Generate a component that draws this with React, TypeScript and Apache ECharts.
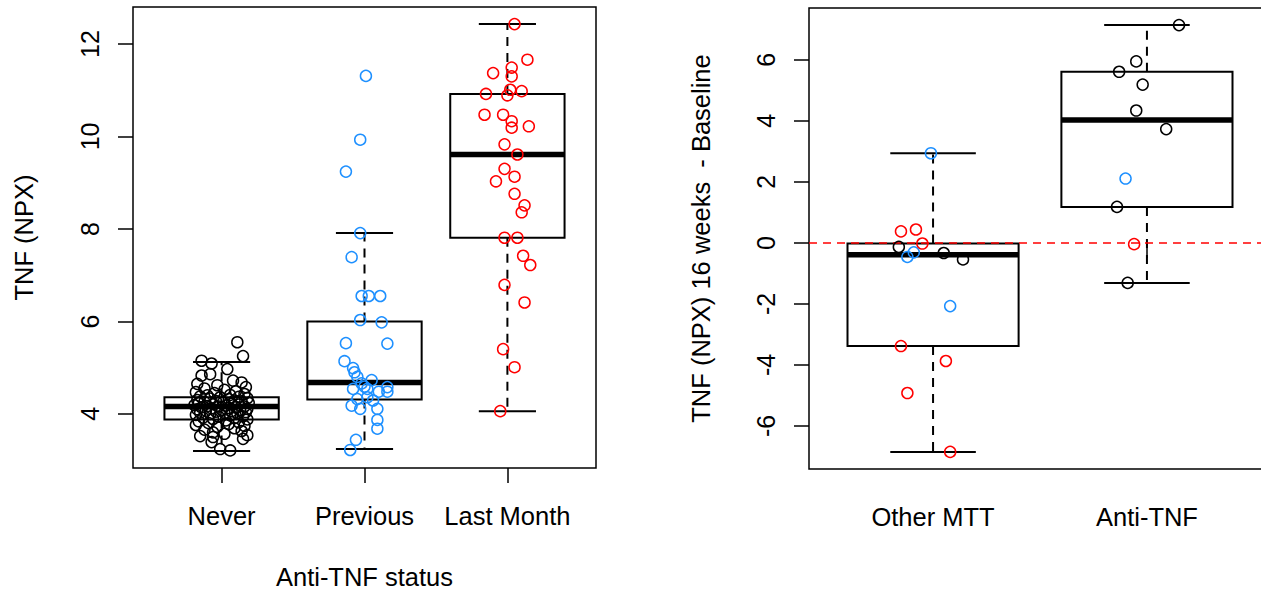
import React, { useEffect, useRef } from "react";
import * as echarts from "echarts";

// ---------- Left panel data ----------
const leftCategories = ["Never", "Previous", "Last Month"];
const leftTicks = [4, 6, 8, 10, 12];
// [jitter, TNF value]
const neverPts: [number, number][] = [
  [0.11, 5.55], [0.15, 5.25], [-0.14, 5.15], [-0.07, 5.09], [0.04, 4.97], [-0.14, 4.83], [-0.08, 4.86],
  [0.08, 4.72], [0.14, 4.68], [-0.17, 4.65], [-0.03, 4.62], [0.17, 4.58], [-0.12, 4.55], [0.02, 4.52],
  [0.1, 4.49], [-0.18, 4.47], [-0.05, 4.45], [0.16, 4.43], [0.06, 4.41], [-0.1, 4.4], [-0.15, 4.38],
  [0.12, 4.37], [-0.01, 4.36], [0.18, 4.34], [-0.08, 4.33], [0.05, 4.32], [-0.17, 4.3], [0.09, 4.29],
  [-0.04, 4.28], [0.14, 4.27], [-0.12, 4.26], [0.01, 4.25], [0.19, 4.24], [-0.16, 4.23], [0.07, 4.22],
  [-0.06, 4.21], [0.12, 4.2], [-0.19, 4.19], [0.03, 4.18], [-0.1, 4.17], [0.16, 4.16], [-0.02, 4.16],
  [0.1, 4.15], [-0.14, 4.14], [0.05, 4.13], [-0.07, 4.12], [0.18, 4.11], [-0.17, 4.1], [0.0, 4.09],
  [0.13, 4.08], [-0.11, 4.07], [0.07, 4.06], [-0.04, 4.05], [0.17, 4.04], [-0.15, 4.03], [0.02, 4.02],
  [0.11, 4.01], [-0.08, 4.0], [-0.18, 3.98], [0.06, 3.97], [0.15, 3.95], [-0.02, 3.94], [-0.13, 3.92],
  [0.09, 3.91], [-0.06, 3.89], [0.18, 3.88], [0.03, 3.86], [-0.16, 3.84], [0.12, 3.82], [-0.09, 3.8],
  [0.05, 3.78], [-0.18, 3.76], [0.16, 3.74], [-0.03, 3.72], [0.09, 3.69], [-0.12, 3.66], [0.14, 3.63],
  [-0.06, 3.6], [0.02, 3.57], [0.18, 3.54], [-0.15, 3.52], [0.15, 3.46], [-0.06, 3.5], [-0.07, 3.39],
  [-0.01, 3.24], [0.06, 3.21],
];
const previousPts: [number, number][] = [
  [0.01, 11.31], [-0.03, 9.93], [-0.13, 9.24], [-0.03, 7.91], [-0.09, 7.39], [-0.02, 6.55], [0.03, 6.55],
  [0.11, 6.55], [-0.03, 6.03], [0.12, 5.98], [-0.13, 5.53], [0.16, 5.52], [-0.14, 5.14], [-0.08, 4.99],
  [-0.07, 4.9], [-0.05, 4.8], [0.05, 4.73], [-0.02, 4.66], [0.0, 4.59], [-0.08, 4.54], [0.02, 4.54],
  [0.16, 4.58], [0.16, 4.48], [0.1, 4.48], [-0.05, 4.32], [0.02, 4.36], [0.06, 4.29], [-0.09, 4.18],
  [-0.03, 4.11], [0.09, 4.11], [0.09, 3.87], [0.09, 3.68], [-0.06, 3.44], [-0.1, 3.22],
];
const lastMonthPts: [number, number][] = [
  [0.05, 12.43], [0.14, 11.66], [-0.1, 11.37], [0.03, 11.49], [0.03, 11.3], [0.02, 11.01], [0.1, 10.98],
  [-0.15, 10.92], [0.0, 10.89], [-0.16, 10.47], [-0.03, 10.47], [0.03, 10.33], [0.03, 10.19], [0.15, 10.22],
  [-0.02, 9.83], [0.07, 9.61], [-0.02, 9.3], [-0.08, 9.03], [0.05, 9.13], [0.05, 8.76], [0.12, 8.51],
  [0.1, 8.36], [-0.02, 7.81], [0.07, 7.81], [0.11, 7.42], [0.16, 7.22], [-0.02, 6.79], [0.12, 6.41],
  [-0.03, 5.4], [0.05, 5.01], [-0.05, 4.06],
];
// [position, lower whisker, Q1, median, Q3, upper whisker]
const leftBoxes: number[][] = [
  [1, 3.2, 3.88, 4.16, 4.36, 5.12],
  [2, 3.24, 4.31, 4.68, 6.0, 7.91],
  [3, 4.06, 7.81, 9.61, 10.92, 12.43],
];

// ---------- Right panel data ----------
const rightCategories = ["Other MTT", "Anti-TNF"];
const rightTicks = [-6, -4, -2, 0, 2, 4, 6];
const otherBlack: [number, number][] = [[-0.16, -0.13], [0.05, -0.33], [0.14, -0.54]];
const otherBlue: [number, number][] = [[-0.01, 2.94], [-0.09, -0.31], [-0.12, -0.46], [0.08, -2.07]];
const otherRed: [number, number][] = [
  [-0.15, 0.38], [-0.08, 0.44], [-0.05, -0.02], [-0.15, -3.38], [0.06, -3.87], [-0.12, -4.92], [0.08, -6.85],
];
const antiBlack: [number, number][] = [
  [0.15, 7.14], [-0.05, 5.95], [-0.13, 5.61], [-0.02, 5.19], [-0.05, 4.34], [0.09, 3.73], [-0.14, 1.18], [-0.09, -1.31],
];
const antiBlue: [number, number][] = [[-0.1, 2.11]];
const antiRed: [number, number][] = [[-0.06, -0.04]];
const rightBoxes: number[][] = [
  [1, -6.85, -3.38, -0.39, -0.02, 2.94],
  [2, -1.31, 1.18, 4.03, 5.61, 7.14],
];

const BLACK = "#000000";
const BLUE = "#1E90FF";
const RED = "#FF0000";
const FONT = "Liberation Sans, Arial, sans-serif";

function place(pts: [number, number][], pos: number) {
  return pts.map(([j, v]) => [pos + j, v]);
}

function boxRender(params: any, api: any) {
  const x = api.value(0);
  const lo = api.coord([x, api.value(1)]);
  const q1 = api.coord([x, api.value(2)]);
  const med = api.coord([x, api.value(3)]);
  const q3 = api.coord([x, api.value(4)]);
  const hi = api.coord([x, api.value(5)]);
  const hw = api.size([0.4, 0])[0];
  const cw = api.size([0.2, 0])[0];
  const cx = lo[0];
  const dash = { stroke: BLACK, lineWidth: 2, lineDash: [9, 7] };
  const solid = { stroke: BLACK, lineWidth: 2 };
  return {
    type: "group",
    children: [
      { type: "line", shape: { x1: cx, y1: q3[1], x2: cx, y2: hi[1] }, style: dash },
      { type: "line", shape: { x1: cx, y1: q1[1], x2: cx, y2: lo[1] }, style: dash },
      { type: "line", shape: { x1: cx - cw, y1: hi[1], x2: cx + cw, y2: hi[1] }, style: solid },
      { type: "line", shape: { x1: cx - cw, y1: lo[1], x2: cx + cw, y2: lo[1] }, style: solid },
      {
        type: "rect",
        shape: { x: cx - hw, y: q3[1], width: 2 * hw, height: q1[1] - q3[1] },
        style: { fill: "#ffffff", stroke: BLACK, lineWidth: 2 },
      },
      { type: "line", shape: { x1: cx - hw, y1: med[1], x2: cx + hw, y2: med[1] }, style: { stroke: BLACK, lineWidth: 5.5 } },
    ],
  };
}

function scatter(data: number[][], color: string, idx: number, extra: any = {}) {
  return {
    type: "scatter",
    xAxisIndex: idx,
    yAxisIndex: idx,
    data,
    symbol: "circle",
    symbolSize: 11,
    z: 5,
    itemStyle: { color: "rgba(0,0,0,0)", borderColor: color, borderWidth: 1.5, opacity: 1 },
    emphasis: { disabled: true },
    ...extra,
  };
}

const axisText = { color: BLACK, fontFamily: FONT };

export default function App() {
  const ref = useRef<HTMLDivElement>(null);
  useEffect(() => {
    document.body.style.margin = "0";
    document.body.style.overflow = "hidden";
    if (!ref.current) return;
    const chart = echarts.init(ref.current, null, { renderer: "svg" });
    chart.setOption({
      animation: false,
      backgroundColor: "#ffffff",
      grid: [
        { left: 133, top: 7, width: 463, height: 461, show: true, borderColor: BLACK, borderWidth: 1.5, backgroundColor: "transparent", outerBoundsMode: "none", containLabel: false },
        { left: 809, top: 8, width: 462, height: 461, show: true, borderColor: BLACK, borderWidth: 1.5, backgroundColor: "transparent", outerBoundsMode: "none", containLabel: false },
      ],
      xAxis: [
        {
          type: "value", gridIndex: 0, min: 0.38, max: 3.62,
          axisLine: { show: false }, splitLine: { show: false },
          axisTick: { show: true, length: 15, customValues: [1, 2, 3], lineStyle: { color: BLACK, width: 1.5 } },
          axisLabel: { show: true, customValues: [1, 2, 3], formatter: (v: number) => leftCategories[Math.round(v) - 1], fontSize: 25.5, margin: 35, ...axisText },
          name: "Anti-TNF status", nameLocation: "middle", nameGap: 109,
          nameTextStyle: { fontSize: 25.5, verticalAlign: "middle", lineHeight: 20, ...axisText },
        },
        {
          type: "value", gridIndex: 1, min: 0.42, max: 2.58,
          axisLine: { show: false }, splitLine: { show: false },
          axisTick: { show: true, length: 15, customValues: [1, 2], lineStyle: { color: BLACK, width: 1.5 } },
          axisLabel: { show: true, customValues: [1, 2], formatter: (v: number) => rightCategories[Math.round(v) - 1], fontSize: 25.5, margin: 35, ...axisText },
        },
      ],
      yAxis: [
        {
          type: "value", gridIndex: 0, min: 2.83, max: 12.8,
          axisLine: { show: false }, splitLine: { show: false },
          axisTick: { show: true, length: 15, customValues: leftTicks, lineStyle: { color: BLACK, width: 1.5 } },
          axisLabel: { show: true, customValues: leftTicks, rotate: 90, fontSize: 25, margin: 31, ...axisText },
          name: "TNF (NPX)", nameLocation: "middle", nameRotate: 90, nameGap: 96,
          nameTextStyle: { fontSize: 25.5, ...axisText },
        },
        {
          type: "value", gridIndex: 1, min: -7.41, max: 7.7,
          axisLine: { show: false }, splitLine: { show: false },
          axisTick: { show: true, length: 15, customValues: rightTicks, lineStyle: { color: BLACK, width: 1.5 } },
          axisLabel: { show: true, customValues: rightTicks, rotate: 90, fontSize: 25, margin: 31, ...axisText },
          name: "TNF (NPX) 16 weeks  - Baseline", nameLocation: "middle", nameRotate: 90, nameGap: 95,
          nameTextStyle: { fontSize: 25.5, ...axisText },
        },
      ],
      series: [
        { type: "custom", xAxisIndex: 0, yAxisIndex: 0, data: leftBoxes, renderItem: boxRender, z: 2, silent: true, encode: { x: 0, y: [1, 2, 3, 4, 5] } },
        { type: "custom", xAxisIndex: 1, yAxisIndex: 1, data: rightBoxes, renderItem: boxRender, z: 2, silent: true, encode: { x: 0, y: [1, 2, 3, 4, 5] } },
        scatter(place(neverPts, 1), BLACK, 0),
        scatter(place(previousPts, 2), BLUE, 0),
        scatter(place(lastMonthPts, 3), RED, 0),
        scatter([...place(otherBlack, 1), ...place(antiBlack, 2)], BLACK, 1, {
          markLine: {
            silent: true, symbol: ["none", "none"], label: { show: false },
            lineStyle: { color: RED, type: [8, 6], width: 1.5 },
            data: [{ yAxis: 0 }],
          },
        }),
        scatter([...place(otherBlue, 1), ...place(antiBlue, 2)], BLUE, 1),
        scatter([...place(otherRed, 1), ...place(antiRed, 2)], RED, 1),
      ],
    });
    return () => chart.dispose();
  }, []);
  return (
    <div style={{ width: 1261, height: 592, position: "absolute", left: 0, top: 0, overflow: "hidden" }}>
      <div ref={ref} style={{ width: 1275, height: 592 }} />
    </div>
  );
}
